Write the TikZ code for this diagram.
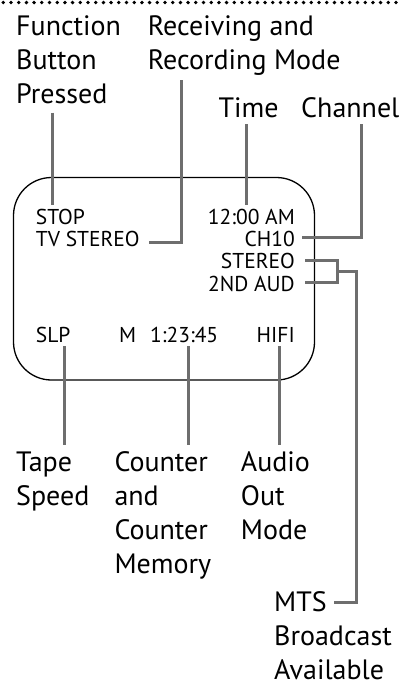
\documentclass[tikz,border=0pt]{standalone}
\usepackage{fontspec}
\setmainfont{PT Sans}
\definecolor{linegray}{HTML}{6E6E6E}
\begin{document}
\begin{tikzpicture}[x=1pt,y=-1pt,
  conn/.style={draw=linegray,line width=3pt,line cap=butt,line join=miter},
  big/.style={font=\fontsize{28}{34}\selectfont,inner sep=0pt,align=left,anchor=base west},
  small/.style={font=\fontsize{21.5}{22}\selectfont,inner sep=0pt},
  screenbox/.style={draw=black,line width=1.3pt,rounded corners=38pt,minimum width=301pt,minimum height=202.5pt,inner sep=0pt}]
\useasboundingbox (0,0) rectangle (399,681);
% dotted top rule
\foreach \i in {0,...,51} \fill (3.3+\i*7.7,2.5) circle (1.9pt);
% screen
\node[screenbox] (screen) at (164,278.75) {};
% screen texts
\node[small,anchor=base west] (stop) at (35.7,224) {STOP};
\node[small,anchor=base west] (tvs) at (35.7,246) {TV STEREO};
\node[small,anchor=base east] (time) at (295,224) {12:00 AM};
\node[small,anchor=base east] (ch) at (295,246) {CH10};
\node[small,anchor=base east] (st) at (295,268.3) {STEREO};
\node[small,anchor=base east] (aud) at (295,291.7) {2ND AUD};
\node[small,anchor=base west] (slp) at (35.7,342.7) {SLP};
\node[small,anchor=base west] (mm) at (119,342.7) {M};
\node[small,anchor=base west] (cnt) at (150,342.7) {1:23:45};
\node[small,anchor=base east] (hifi) at (295,342.7) {HIFI};
% labels (anchor = baseline of the last line)
\node[big] (fbp) at (16,103.3) {Function\\Button\\Pressed};
\node[big] (rrm) at (147.7,69.5) {Receiving and\\Recording Mode};
\node[big] (tl) at (218.3,117) {Time};
\node[big] (chl) at (301,117) {Channel};
\node[big] (tape) at (16,505) {Tape\\Speed};
\node[big] (ctr) at (114.3,573) {Counter\\and\\Counter\\Memory};
\node[big] (aom) at (240.7,539) {Audio\\Out\\Mode};
\node[big] (mts) at (274,679.7) {MTS\\Broadcast\\Available};
% connector end points
\coordinate (f1) at (52.3,112.7); \coordinate (f2) at (52.3,205);
\coordinate (r1) at (181,80); \coordinate (r2) at (181,242.3); \coordinate (r3) at (149,242.3);
\coordinate (t1) at (246.7,124); \coordinate (t2) at (246.7,205);
\coordinate (c1) at (361.7,124); \coordinate (c2) at (361.7,237.5); \coordinate (c3) at (301.7,237.5);
\coordinate (s1) at (305,260.7); \coordinate (s2) at (337.5,260.7);
\coordinate (a1) at (305,282.7); \coordinate (a2) at (337.5,282.7);
\coordinate (j1) at (337.5,271.7); \coordinate (j2) at (356,271.7);
\coordinate (j3) at (356,602.7); \coordinate (m1) at (334,602.7);
\coordinate (b1) at (64.3,346); \coordinate (b2) at (64.3,445);
\coordinate (n1) at (188.3,346); \coordinate (n2) at (188.3,445);
\coordinate (h1) at (279.3,346); \coordinate (h2) at (279.3,445);
% connectors
\draw[conn] (f1) -- (f2);
\draw[conn] (r1) -- (r2) -- (r3);
\draw[conn] (t1) -- (t2);
\draw[conn] (c1) -- (c2) -- (c3);
\draw[conn] (s1) -- (s2) -- (a2) -- (a1);
\draw[conn] (j1) -- (j2) -- (j3) -- (m1);
\draw[conn] (b1) -- (b2);
\draw[conn] (n1) -- (n2);
\draw[conn] (h1) -- (h2);
\end{tikzpicture}
\end{document}
